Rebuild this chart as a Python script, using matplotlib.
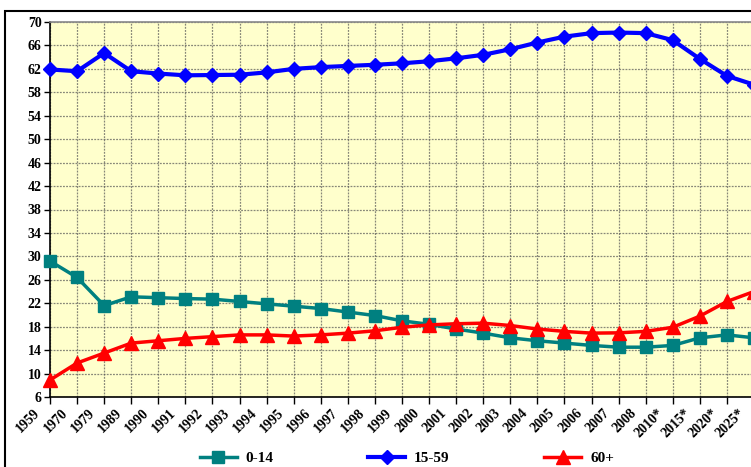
import matplotlib
matplotlib.use("Agg")
import matplotlib.pyplot as plt
import matplotlib.transforms as mtransforms
from matplotlib.patches import Rectangle

plt.rcParams['font.family'] = ['Liberation Serif', 'DejaVu Serif']
plt.rcParams['font.weight'] = 'bold'

years = ['1959', '1970', '1979', '1989', '1990', '1991', '1992', '1993', '1994',
         '1995', '1996', '1997', '1998', '1999', '2000', '2001', '2002', '2003',
         '2004', '2005', '2006', '2007', '2008', '2010*', '2015*', '2020*', '2025*']

age_0_14 = [29.2, 26.4, 21.6, 23.1, 22.95, 22.8, 22.7, 22.3, 21.9, 21.5, 21.1, 20.5,
            19.9, 19.0, 18.4, 17.6, 16.9, 16.1, 15.6, 15.2, 14.8, 14.5, 14.5, 14.8,
            16.1, 16.6, 16.1]
age_15_59 = [61.9, 61.6, 64.7, 61.6, 61.2, 60.9, 60.95, 61.0, 61.4, 62.0, 62.3, 62.5,
             62.7, 62.95, 63.3, 63.8, 64.4, 65.35, 66.5, 67.5, 68.1, 68.2, 68.1, 66.9,
             63.7, 60.8, 59.3]
age_60 = [8.9, 11.8, 13.5, 15.2, 15.6, 16.0, 16.3, 16.6, 16.6, 16.4, 16.6, 16.9,
          17.3, 17.9, 18.3, 18.5, 18.6, 18.2, 17.6, 17.2, 16.9, 16.95, 17.2, 17.9,
          19.8, 22.3, 24.0]

yticks = list(range(6, 71, 4))

fig = plt.figure(figsize=(7.51, 4.67), dpi=100)
# plot area runs past the right edge of the picture, like the cropped original
ax = fig.add_axes([50 / 751, 1 - 397 / 467, 704 / 751, 375 / 467])
ax.set_facecolor('#FFFFCC')

x = list(range(len(years)))
ax.plot(x, age_0_14, color='#008080', lw=2.5, marker='s', ms=8.5, label='0-14',
        clip_on=False, zorder=3)
ax.plot(x, age_15_59, color='#0000FF', lw=3, marker='D', ms=7.5, label='15-59',
        clip_on=False, zorder=3)
ax.plot(x, age_60, color='#FF0000', lw=2.5, marker='^', ms=10, label='60+',
        clip_on=False, zorder=4)

ax.set_xlim(0, len(years) - 1)
ax.set_ylim(6, 70)
ax.set_yticks(yticks)
ax.set_xticks(x)
ax.set_xticklabels(years, rotation=45, ha='right', va='top', fontsize=10,
                   fontweight='bold')
ax.tick_params(axis='y', labelsize=10, direction='out', length=4, width=1, pad=2)
ax.tick_params(axis='x', direction='out', length=5, width=1, pad=2)

# nudge rotated labels a bit left of their ticks
shift = mtransforms.ScaledTranslation(-7 / 100, 0, fig.dpi_scale_trans)
for lbl in ax.get_xticklabels():
    lbl.set_transform(lbl.get_transform() + shift)

ax.grid(True, color='#555555', lw=0.9, ls=(0, (1.5, 1)), alpha=0.7, zorder=1)
ax.set_axisbelow(True)

for side in ['left', 'bottom']:
    ax.spines[side].set_color('black')
    ax.spines[side].set_linewidth(1.2)
ax.spines['top'].set_color('#888888')
ax.spines['top'].set_linewidth(1.2)
ax.spines['right'].set_visible(False)

# outer chart frame
fig.patches.append(Rectangle((5 / 751, -0.2), 1.2, 1.2 - 11 / 467,
                             transform=fig.transFigure, fill=False,
                             edgecolor='black', lw=1.5))

leg = fig.legend(loc='center', bbox_to_anchor=(407 / 751, 1 - 458 / 467), ncol=3,
                 frameon=False, fontsize=11, handlelength=2.4, columnspacing=6.2,
                 handletextpad=0.6, borderpad=0.2)
for t in leg.get_texts():
    t.set_fontweight('bold')

fig.savefig('out.png', dpi=100)
